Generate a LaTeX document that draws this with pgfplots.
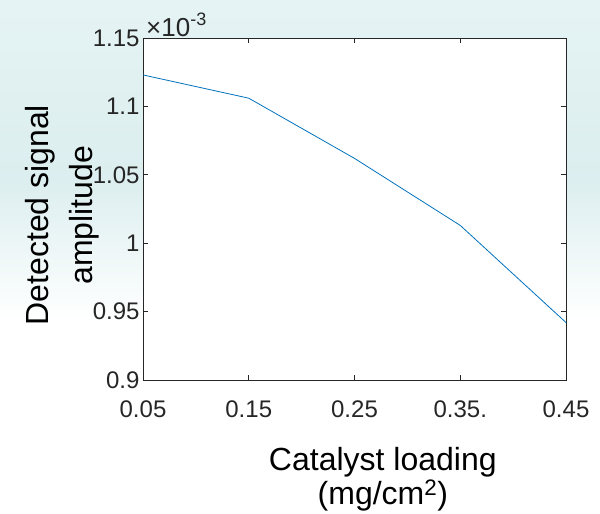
\documentclass[border=0pt]{standalone}
\usepackage{pgfplots}
\pgfplotsset{compat=1.18}
\usepackage{fontspec}
\setmainfont{Liberation Sans}

\definecolor{bgtop}{RGB}{229,243,244}
\definecolor{bgmid}{RGB}{220,238,239}
\definecolor{mblue}{RGB}{0,114,189}
\definecolor{axgray}{RGB}{38,38,38}

\begin{document}
\begin{tikzpicture}[x=1pt,y=1pt]
\useasboundingbox (0,0) rectangle (600,514);
\fill[white] (0,0) rectangle (600,514);
\shade[top color=bgtop,bottom color=bgmid] (0,334) rectangle (600,514);
\shade[top color=bgmid,bottom color=white] (0,194) rectangle (600,334);
\begin{axis}[
  at={(143pt,134pt)}, anchor=south west,
  scale only axis, width=423pt, height=342pt,
  xmin=0.05, xmax=0.45, ymin=0.9, ymax=1.15,
  xtick={0.05,0.15,0.25,0.35,0.45},
  xticklabels={0.05,0.15,0.25,0.35.,0.45},
  ytick={0.9,0.95,1,1.05,1.1,1.15},
  yticklabels={0.9,0.95,1,1.05,1.1,1.15},
  tick align=inside, major tick length=5pt,
  axis line style={axgray, line width=0.8pt},
  tick style={axgray, line width=0.8pt},
  ticklabel style={font=\fontsize{24}{28}\selectfont, text=axgray},
  xticklabel style={yshift=-17pt},
  axis background/.style={fill=white},
  xlabel={Catalyst loading\\(mg/cm\textsuperscript{2})},
  ylabel={Detected signal\\amplitude},
  xlabel style={at={(axis description cs:0.567,-0.186)}, anchor=north, align=center, font=\fontsize{32}{34}\selectfont},
  ylabel style={at={(axis description cs:-0.19,0.482)}, anchor=center, align=center, font=\fontsize{32}{44}\selectfont},
  clip=false,
]
\addplot[mblue, line width=0.8pt] coordinates {(0.05,1.123) (0.15,1.106) (0.25,1.062) (0.35,1.013) (0.45,0.942)};
\node[anchor=base west, font=\fontsize{26}{28}\selectfont, text=axgray, inner sep=0pt] at (rel axis cs:0,1) [xshift=3pt, yshift=1pt] {×10\raisebox{0.45em}{\fontsize{18}{18}\selectfont -3}};
\end{axis}
\end{tikzpicture}
\end{document}
